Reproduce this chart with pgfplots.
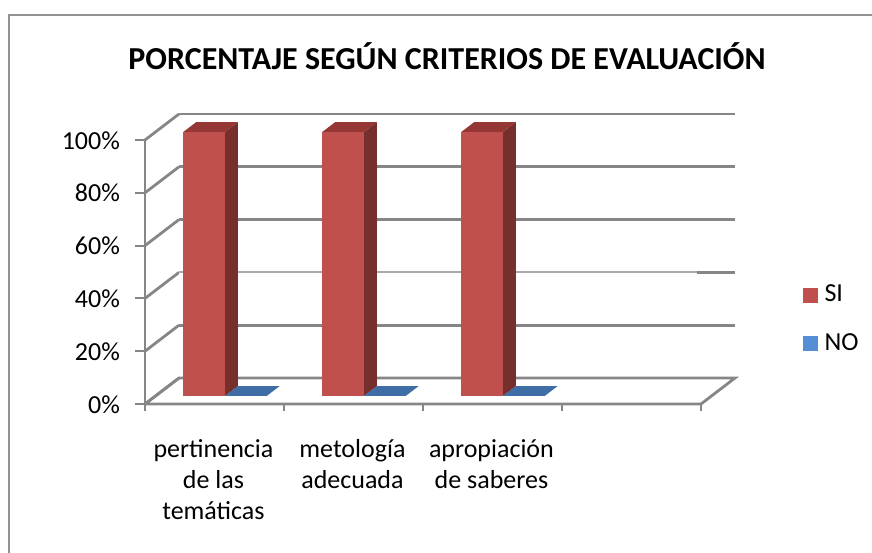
\documentclass[border=0pt]{standalone}
\usepackage{pgfplots}
\pgfplotsset{compat=1.18}
\usepackage{fontspec}
\setmainfont{Carlito}
\definecolor{gridg}{HTML}{868686}
\definecolor{rfront}{HTML}{C0504D}
\definecolor{rside}{HTML}{772F2D}
\definecolor{rtop}{HTML}{953735}
\definecolor{btop}{HTML}{3F6EA6}
\definecolor{blegend}{HTML}{558ED5}
% bar: x0, x1, value
\newcommand\barSI[3]{%
  \addplot3[fill=rfront,draw=none,forget plot] coordinates {(#1,0.31,0) (#2,0.31,0) (#2,0.31,#3) (#1,0.31,#3)};
  \addplot3[fill=rside,draw=none,forget plot] coordinates {(#2,0.31,0) (#2,0.69,0) (#2,0.69,#3) (#2,0.31,#3)};
  \addplot3[fill=rtop,draw=none,forget plot] coordinates {(#1,0.31,#3) (#2,0.31,#3) (#2,0.69,#3) (#1,0.69,#3)};
}
\newcommand\barNO[3]{%
  \addplot3[fill=btop,draw=none,forget plot] coordinates {(#1,0.31,#3) (#2,0.31,#3) (#2,0.69,#3) (#1,0.69,#3)};
}
\newcommand\ztickmark[1]{%
  \addplot3[gridg,line width=2pt,forget plot] coordinates {(-0.07,0,#1) (0,0,#1)};
}
\newcommand\xtickmark[1]{%
  \addplot3[gridg,line width=2pt,forget plot] coordinates {(#1,0,-2.8) (#1,0,0)};
}
\begin{document}
\fontsize{25pt}{31pt}\selectfont
\begin{tikzpicture}[x=1pt,y=1pt]
\path[use as bounding box] (0,0) rectangle (872,552);
\draw[gridg!90,line width=1.6pt] (9,-5) -- (9,537) -- (877,537);
\node[font=\fontsize{32pt}{36pt}\selectfont\bfseries,anchor=center] at (447,496) {PORCENTAJE SEGÚN CRITERIOS DE EVALUACIÓN};
\begin{axis}[
  name=a, at={(145pt,148pt)}, anchor=origin,
  x={(139pt,0pt)}, y={(34pt,26pt)}, z={(0pt,2.64pt)},
  xmin=0, xmax=4, ymin=0, ymax=1, zmin=0, zmax=100,
  clip=false,
  axis line style={draw=none},
  xtick={0,1,2,3,4}, ytick=\empty, ztick={0,20,40,60,80,100},
  xtick pos=left,
  x tick label as interval,
  xticklabels={pertinencia\\de las\\temáticas,metología\\adecuada,apropiación\\de saberes,,},
  x tick label style={align=center,font=\fontsize{26pt}{31pt}\selectfont,anchor=north,yshift=-23pt,xshift=4.5pt},
  zticklabel={\pgfmathprintnumber{\tick}\%},
  z tick label style={font=\fontsize{26pt}{31pt}\selectfont,anchor=east,xshift=-11pt,yshift=4pt},
  z tick style={draw=none},
  x tick style={draw=none},
  /pgf/number format/assume math mode=true,
  zmajorgrids=true,
  major grid style={gridg,line width=2.8pt},
  major tick length=7pt,
  tick align=outside,
  legend cell align=left,
  legend style={draw=none,fill=none,at={(1.109,0.157)},anchor=south west,font=\fontsize{26pt}{31pt}\selectfont,row sep=24pt,/tikz/column 1/.style={column sep=5pt}},
  legend image code/.code={\node[fill=#1,inner sep=0pt,minimum size=15pt,anchor=west] at (0pt,0pt) {};},
]
\addplot3[gridg,line width=2.8pt,forget plot] coordinates {(0,0,0) (0,0,100)};
\addplot3[gridg,line width=2.8pt,forget plot] coordinates {(0,0,0) (4,0,0) (4,1,0) (0,1,0) (0,0,0)};
\ztickmark{0}\ztickmark{20}\ztickmark{40}\ztickmark{60}\ztickmark{80}\ztickmark{100}
\xtickmark{0}\xtickmark{1}\xtickmark{2}\xtickmark{3}\xtickmark{4}
\addplot3[white,line width=3pt,forget plot] coordinates {(0,1,40) (3.73,1,40)};
\addplot3[gridg!70,line width=2pt,forget plot] coordinates {(0,1,40) (3.73,1,40)};
\addlegendimage{rfront}\addlegendentry{SI}
\addlegendimage{blegend}\addlegendentry{NO}
\barSI{0.2}{0.5}{100}\barNO{0.5}{0.8}{0}
\barSI{1.2}{1.5}{100}\barNO{1.5}{1.8}{0}
\barSI{2.2}{2.5}{100}\barNO{2.5}{2.8}{0}
\end{axis}
\end{tikzpicture}
\end{document}
